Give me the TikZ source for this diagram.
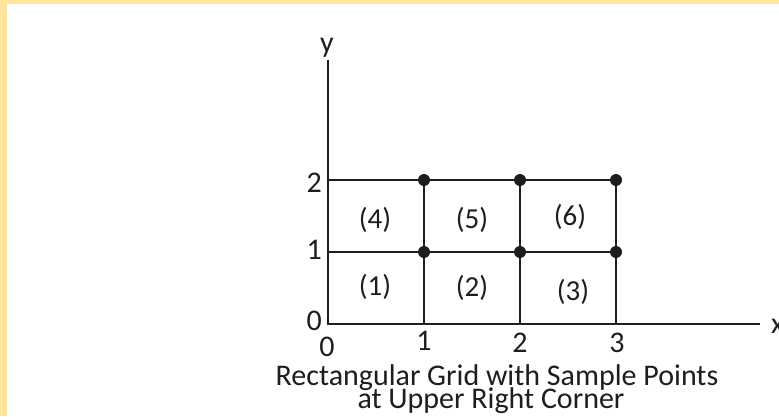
\documentclass[tikz,border=0pt]{standalone}
\usepackage{fontspec}
\setmainfont{Carlito}
\definecolor{frame}{RGB}{255,229,153}
\definecolor{ink}{RGB}{30,30,30}
\begin{document}
\begin{tikzpicture}[x=1pt,y=-1pt,
  axis/.style={draw=ink,line width=2.4pt},
  gridline/.style={draw=ink,line width=2.4pt},
  sample/.style={circle,fill=ink,inner sep=0pt,minimum size=12pt},
  lbl/.style={inner sep=0pt,anchor=base,text=ink,font=\fontsize{30}{32}\selectfont},
  cell/.style={inner sep=0pt,anchor=base,text=ink,font=\fontsize{29}{31}\selectfont},
  caption/.style={inner sep=0pt,anchor=base,text=ink,font=\fontsize{30}{32}\selectfont}]
\useasboundingbox (0,0) rectangle (779,416);
\fill[white] (0,0) rectangle (779,416);
\fill[frame] (0,0) rectangle (779,4);
\fill[frame] (0,0) rectangle (7,416);
% coordinates
\coordinate (O) at (328,324);
\coordinate (ytop) at (328,60);
\coordinate (xend) at (760,324);
\coordinate (g02) at (328,180);
\coordinate (g01) at (328,252);
\coordinate (g10) at (424,324);
\coordinate (g20) at (520,324);
\coordinate (g30) at (616,324);
% axes
\draw[axis] (ytop) -- (O) -- (xend);
% grid
\node[sample] (p12) at (424,180) {};
\node[sample] (p22) at (520,180) {};
\node[sample] (p32) at (616,180) {};
\node[sample] (p11) at (424,252) {};
\node[sample] (p21) at (520,252) {};
\node[sample] (p31) at (616,252) {};
\draw[gridline] (g02) -- (p12.center) -- (p22.center) -- (p32.center);
\draw[gridline] (g01) -- (p11.center) -- (p21.center) -- (p31.center);
\draw[gridline] (g10) -- (p11.center) -- (p12.center);
\draw[gridline] (g20) -- (p21.center) -- (p22.center);
\draw[gridline] (g30) -- (p31.center) -- (p32.center);
% axis labels
\node[lbl] (ylab) at (327,52) {y};
\node[lbl,anchor=base west] (xlab) at (771,333) {x};
% tick labels
\node[lbl,anchor=base east] (t2) at (322,192) {2};
\node[lbl,anchor=base east] (t1) at (322,259) {1};
\node[lbl,anchor=base east] (t0) at (322,330) {0};
\node[lbl] (b0) at (327,356) {0};
\node[lbl] (b1) at (424,350) {1};
\node[lbl] (b2) at (520,352) {2};
\node[lbl] (b3) at (617,352) {3};
% cell labels
\node[cell] (c4) at (375,228) {(4)};
\node[cell] (c5) at (472,228) {(5)};
\node[cell] (c6) at (570,225) {(6)};
\node[cell] (c1) at (375,295) {(1)};
\node[cell] (c2) at (472,296) {(2)};
\node[cell] (c3) at (573,300) {(3)};
% caption
\node[caption] (cap1) at (497,385) {Rectangular Grid with Sample Points};
\node[caption] (cap2) at (491,408) {at Upper Right Corner};
\end{tikzpicture}
\end{document}
